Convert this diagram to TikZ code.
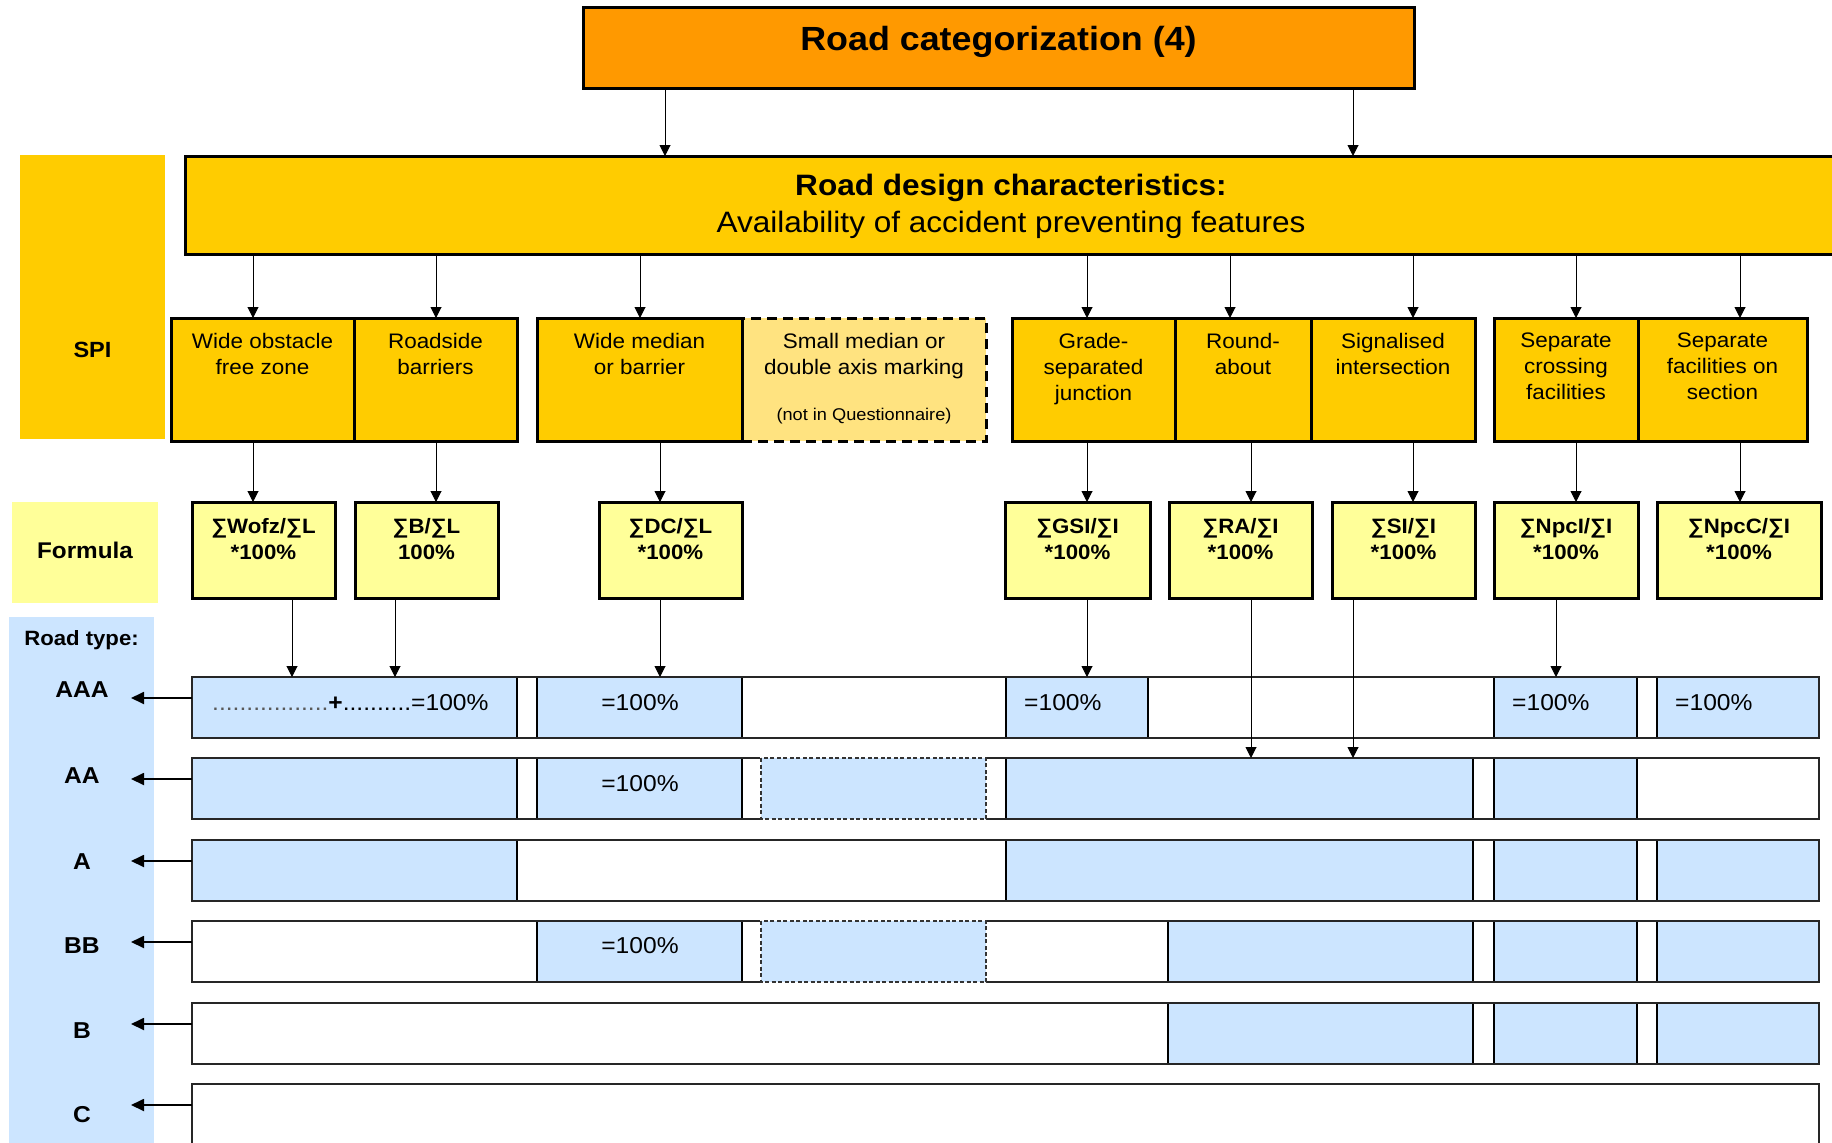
\documentclass[tikz,border=0pt]{standalone}
\usepackage{fontspec}
\setmainfont{Liberation Sans}[FakeStretch=1.07]
\usetikzlibrary{arrows.meta}
\definecolor{corange}{HTML}{FF9900}
\definecolor{cyellow}{HTML}{FFCC00}
\definecolor{cpale}{HTML}{FFE380}
\definecolor{cformula}{HTML}{FFFF99}
\definecolor{cblue}{HTML}{CCE5FF}
\newcommand\myfs[2]{\fontsize{#1}{#2}\selectfont}
\begin{document}
\begin{tikzpicture}[x=1pt,y=-1pt,
 bigbox/.style={draw=black, line width=3pt, inner sep=0pt, outer sep=0pt},
 spibox/.style={bigbox, fill=cyellow, minimum height=123pt},
 fbox/.style={bigbox, fill=cformula, minimum height=96pt},
 plainbox/.style={inner sep=0pt, outer sep=0pt},
 arr/.style={line width=1pt, -{Triangle[length=11pt,width=11pt]}},
 rarr/.style={line width=1.8pt, -{Triangle[length=13pt,width=12pt]}},
 spitxt/.style={inner sep=0pt, align=center, anchor=north, font=\myfs{21}{26}},
 ftxt/.style={inner sep=0pt, align=center, anchor=north, font=\myfs{20.8}{26}\bfseries},
 rowbox/.style={draw=black!85, line width=2pt, fill=white, inner sep=0pt, outer sep=0pt, minimum width=1627pt, minimum height=61pt},
 rowline/.style={draw=black!85, line width=2pt},
 cell/.style={fill=cblue, draw=black, line width=1.5pt},
 dcell/.style={fill=cblue, draw=black!80, line width=1.5pt, dash pattern=on 4pt off 2.5pt},
 pct/.style={inner sep=0pt, anchor=base, font=\myfs{23}{28}},
 pctw/.style={inner sep=0pt, anchor=base west, font=\myfs{23}{28}},
 rlabel/.style={inner sep=0pt, anchor=base, font=\myfs{23}{28}\bfseries},
 hlabel/.style={inner sep=0pt, anchor=base, font=\myfs{22}{26}\bfseries},
]
\useasboundingbox (0,0) rectangle (1832,1143);
\clip (0,0) rectangle (1832,1143);

% ---------- top box ----------
\node[bigbox, fill=corange, minimum width=831pt, minimum height=81pt] (top) at (998.5,47.5) {};
\node[inner sep=0pt, anchor=base, font=\myfs{33.5}{40}\bfseries] (toptxt) at (998.5,50) {Road categorization (4)};

% ---------- road design characteristics ----------
\node[bigbox, fill=cyellow, minimum width=1675pt, minimum height=98pt] (rdc) at (1022.5,205) {};
\node[inner sep=0pt, anchor=base, font=\myfs{29.5}{34}\bfseries] (rdct1) at (1011,195.6) {Road design characteristics:};
\node[inner sep=0pt, anchor=base, font=\myfs{29.5}{34}] (rdct2) at (1011,232.6) {Availability of accident preventing features};

\draw[arr] (top.south -| 665,0) -- (rdc.north -| 665,0);
\draw[arr] (top.south -| 1353,0) -- (rdc.north -| 1353,0);

% ---------- SPI row ----------
\node[plainbox, fill=cyellow, minimum width=145pt, minimum height=284pt] (spilab) at (92.5,297) {};
\node[hlabel] (spitxt) at (92.5,357) {SPI};

\node[bigbox, fill=cpale, dash pattern=on 10pt off 6pt, minimum width=244pt, minimum height=123pt] (s4) at (864,379.5) {};
\node[spibox, minimum width=183pt] (s1) at (262.5,379.5) {};
\node[spibox, minimum width=163pt] (s2) at (435.5,379.5) {};
\node[spibox, minimum width=205pt] (s3) at (639.5,379.5) {};
\node[spibox, minimum width=163pt] (s5) at (1093.5,379.5) {};
\node[spibox, minimum width=136pt] (s6) at (1243,379.5) {};
\node[spibox, minimum width=164pt] (s7) at (1393,379.5) {};
\node[spibox, minimum width=144pt] (s8) at (1566,379.5) {};
\node[spibox, minimum width=169pt] (s9) at (1722.5,379.5) {};

\node[spitxt] (s1t) at (262.5,332.7) {Wide obstacle\\free zone};
\node[spitxt] (s2t) at (435.5,332.7) {Roadside\\barriers};
\node[spitxt] (s3t) at (639.5,332.7) {Wide median\\or barrier};
\node[spitxt] (s4t) at (864,332.7) {Small median or\\double axis marking};
\node[inner sep=0pt, anchor=base, font=\myfs{17}{20}] (s4n) at (864,420) {(not in Questionnaire)};
\node[spitxt] (s5t) at (1093.5,332.7) {Grade-\\separated\\junction};
\node[spitxt] (s6t) at (1243,332.7) {Round-\\about};
\node[spitxt] (s7t) at (1393,332.7) {Signalised\\intersection};
\node[spitxt] (s8t) at (1566,332.7) {Separate\\crossing\\facilities};
\node[spitxt] (s9t) at (1722.5,332.7) {Separate\\facilities on\\section};

\draw[arr] (rdc.south -| 253,0) -- (s1.north -| 253,0);
\draw[arr] (rdc.south -| 436,0) -- (s2.north -| 436,0);
\draw[arr] (rdc.south -| 640,0) -- (s3.north -| 640,0);
\draw[arr] (rdc.south -| 1087,0) -- (s5.north -| 1087,0);
\draw[arr] (rdc.south -| 1230,0) -- (s6.north -| 1230,0);
\draw[arr] (rdc.south -| 1413,0) -- (s7.north -| 1413,0);
\draw[arr] (rdc.south -| 1576,0) -- (s8.north -| 1576,0);
\draw[arr] (rdc.south -| 1740,0) -- (s9.north -| 1740,0);

% ---------- Formula row ----------
\node[plainbox, fill=cformula, minimum width=146pt, minimum height=101pt] (flab) at (85,552.5) {};
\node[hlabel, font=\myfs{22.7}{26}\bfseries] (flabt) at (85,558) {Formula};

\node[fbox, minimum width=143pt] (f1) at (263.5,550) {};
\node[fbox, minimum width=143pt] (f2) at (426.5,550) {};
\node[fbox, minimum width=143pt] (f3) at (670.5,550) {};
\node[fbox, minimum width=145pt] (f4) at (1077.5,550) {};
\node[fbox, minimum width=143pt] (f5) at (1240.5,550) {};
\node[fbox, minimum width=143pt] (f6) at (1403.5,550) {};
\node[fbox, minimum width=144pt] (f7) at (1566,550) {};
\node[fbox, minimum width=164pt] (f8) at (1739,550) {};

\node[ftxt] (f1t) at (263.5,518) {∑Wofz/∑L\\*100\%};
\node[ftxt] (f2t) at (426.5,518) {∑B/∑L\\100\%};
\node[ftxt] (f3t) at (670.5,518) {∑DC/∑L\\*100\%};
\node[ftxt] (f4t) at (1077.5,518) {∑GSI/∑I\\*100\%};
\node[ftxt] (f5t) at (1240.5,518) {∑RA/∑I\\*100\%};
\node[ftxt] (f6t) at (1403.5,518) {∑SI/∑I\\*100\%};
\node[ftxt] (f7t) at (1566,518) {∑NpcI/∑I\\*100\%};
\node[ftxt] (f8t) at (1739,518) {∑NpcC/∑I\\*100\%};

\draw[arr] (s1.south -| 253,0) -- (f1.north -| 253,0);
\draw[arr] (s2.south -| 436,0) -- (f2.north -| 436,0);
\draw[arr] (s3.south -| 660,0) -- (f3.north -| 660,0);
\draw[arr] (s5.south -| 1087,0) -- (f4.north -| 1087,0);
\draw[arr] (s6.south -| 1251,0) -- (f5.north -| 1251,0);
\draw[arr] (s7.south -| 1413,0) -- (f6.north -| 1413,0);
\draw[arr] (s8.south -| 1576,0) -- (f7.north -| 1576,0);
\draw[arr] (s9.south -| 1740,0) -- (f8.north -| 1740,0);

% ---------- Road type column ----------
\node[plainbox, fill=cblue, minimum width=145pt, minimum height=540pt, anchor=north west] (rtcol) at (9,617) {};
\node[hlabel, font=\myfs{20.7}{24}\bfseries] (rtt) at (81.5,645) {Road type:};

% ---------- rows ----------
\node[rowbox] (rAAA) at (1005.5,707.5) {};
\node[rowbox] (rAA) at (1005.5,788.5) {};
\node[rowbox] (rA) at (1005.5,870.5) {};
\node[rowbox] (rBB) at (1005.5,951.5) {};
\node[rowbox] (rB) at (1005.5,1033.5) {};
\node[rowbox] (rC) at (1005.5,1114.5) {};

% AAA cells
\draw[cell] (192,677) rectangle (517,738);
\draw[cell] (537,677) rectangle (742,738);
\draw[cell] (1006,677) rectangle (1148,738);
\draw[cell] (1494,677) rectangle (1637,738);
\draw[cell] (1657,677) rectangle (1819,738);
% AA cells
\draw[cell] (192,758) rectangle (517,819);
\draw[cell] (537,758) rectangle (742,819);
\draw[cell] (1006,758) rectangle (1473,819);
\draw[cell] (1494,758) rectangle (1637,819);
% A cells
\draw[cell] (192,840) rectangle (517,901);
\draw[cell] (1006,840) rectangle (1473,901);
\draw[cell] (1494,840) rectangle (1637,901);
\draw[cell] (1657,840) rectangle (1819,901);
% BB cells
\draw[cell] (537,921) rectangle (742,982);
\draw[cell] (1168,921) rectangle (1473,982);
\draw[cell] (1494,921) rectangle (1637,982);
\draw[cell] (1657,921) rectangle (1819,982);
% B cells
\draw[cell] (1168,1003) rectangle (1473,1064);
\draw[cell] (1494,1003) rectangle (1637,1064);
\draw[cell] (1657,1003) rectangle (1819,1064);

% row outlines
\foreach \r in {rAAA,rAA,rA,rBB,rB,rC}
  \draw[rowline] (\r.north west) rectangle (\r.south east);

% dashed cells (small median)
\draw[white, line width=2.5pt, fill=cblue] (761,758) rectangle (986,819);
\draw[dcell] (761,758) rectangle (986,819);
\draw[white, line width=2.5pt, fill=cblue] (761,921) rectangle (986,982);
\draw[dcell] (761,921) rectangle (986,982);

% row texts
\node[pctw] (tAAA1) at (212,710) {{\color{black!65}.................}{\bfseries +}..........=100\%};
\node[pct] (tAAA2) at (640,710) {=100\%};
\node[pctw] (tAAA3) at (1024,710) {=100\%};
\node[pctw] (tAAA4) at (1512,710) {=100\%};
\node[pctw] (tAAA5) at (1675,710) {=100\%};
\node[pct] (tAA2) at (640,791) {=100\%};
\node[pct] (tBB2) at (640,953) {=100\%};

% formula -> rows
\draw[arr] (f1.south -| 292,0) -- (rAAA.north -| 292,0);
\draw[arr] (f2.south -| 395,0) -- (rAAA.north -| 395,0);
\draw[arr] (f3.south -| 660,0) -- (rAAA.north -| 660,0);
\draw[arr] (f4.south -| 1087,0) -- (rAAA.north -| 1087,0);
\draw[arr] (f5.south -| 1251,0) -- (rAA.north -| 1251,0);
\draw[arr] (f6.south -| 1353,0) -- (rAA.north -| 1353,0);
\draw[arr] (f7.south -| 1556,0) -- (rAAA.north -| 1556,0);

% row labels
\node[rlabel] (lAAA) at (82,697) {AAA};
\node[rlabel] (lAA) at (82,783) {AA};
\node[rlabel] (lA) at (82,869) {A};
\node[rlabel] (lBB) at (82,953) {BB};
\node[rlabel] (lB) at (82,1038) {B};
\node[rlabel] (lC) at (82,1122) {C};

\coordinate (eAAA) at (131,698);
\coordinate (eAA) at (131,779);
\coordinate (eA) at (131,861);
\coordinate (eBB) at (131,942);
\coordinate (eB) at (131,1024);
\coordinate (eC) at (131,1105);
\draw[rarr] ([yshift=-21pt]rAAA.north west) -- (eAAA);
\draw[rarr] ([yshift=-21pt]rAA.north west) -- (eAA);
\draw[rarr] ([yshift=-21pt]rA.north west) -- (eA);
\draw[rarr] ([yshift=-21pt]rBB.north west) -- (eBB);
\draw[rarr] ([yshift=-21pt]rB.north west) -- (eB);
\draw[rarr] ([yshift=-21pt]rC.north west) -- (eC);
\end{tikzpicture}
\end{document}
